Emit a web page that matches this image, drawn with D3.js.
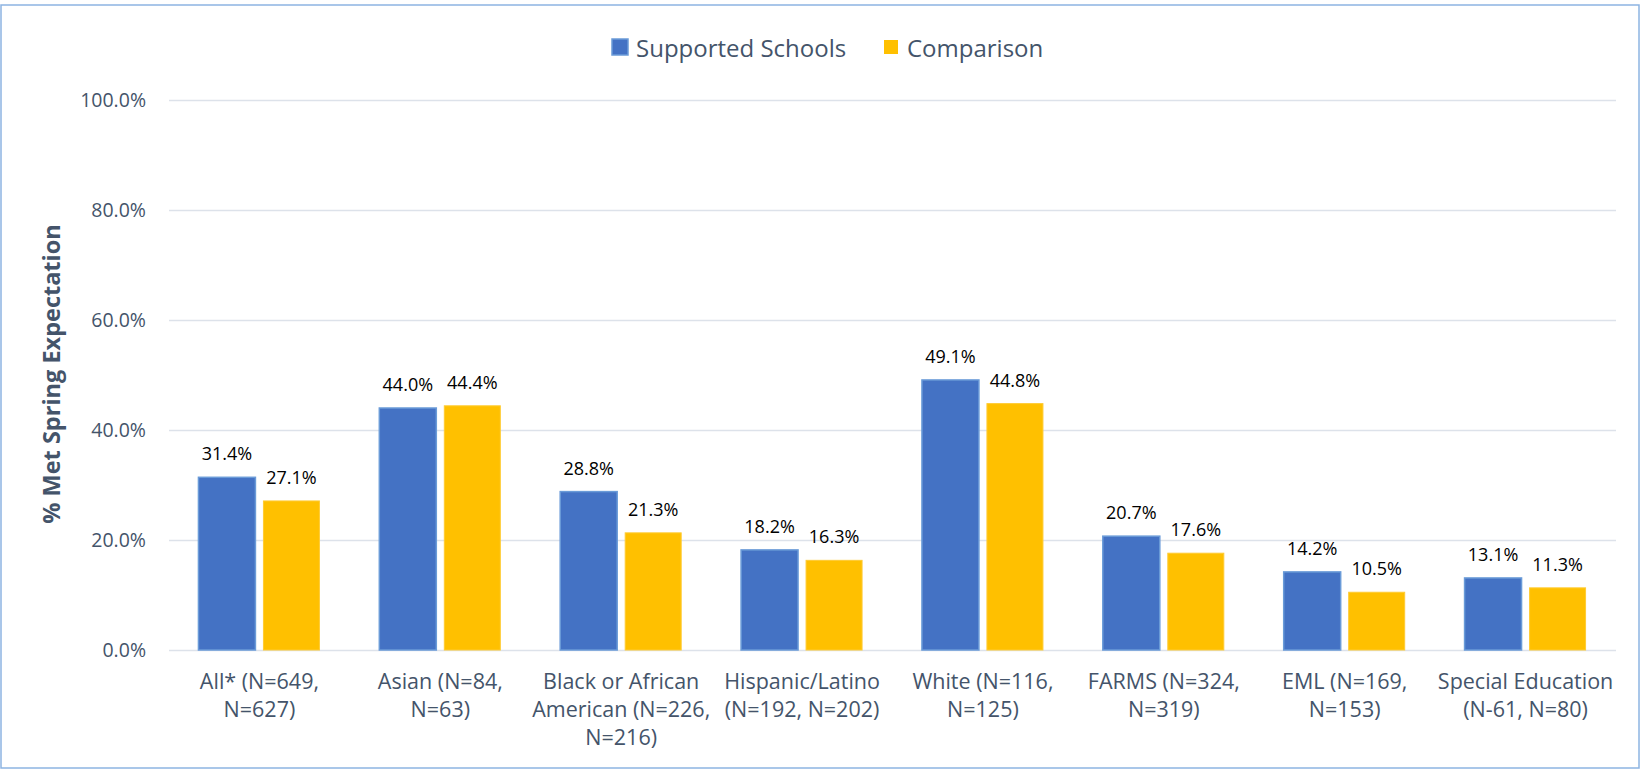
<!DOCTYPE html>
<html>
<head>
<meta charset="utf-8">
<script src="https://cdn.jsdelivr.net/npm/d3@7"></script>
<style>
  html, body { margin: 0; padding: 0; background: #fff; }
  svg { display: block; }
</style>
</head>
<body>
<svg id="chart" width="1641" height="770"></svg>
<script>
// ---- data ----
const categories = [
  "All* (N=649,\nN=627)",
  "Asian (N=84,\nN=63)",
  "Black or African\nAmerican (N=226,\nN=216)",
  "Hispanic/Latino\n(N=192, N=202)",
  "White (N=116,\nN=125)",
  "FARMS (N=324,\nN=319)",
  "EML (N=169,\nN=153)",
  "Special Education\n(N-61, N=80)"
];
const seriesNames = ["Supported Schools", "Comparison"];
const supported = [31.4, 44.0, 28.8, 18.2, 49.1, 20.7, 14.2, 13.1];
const comparison = [27.1, 44.4, 21.3, 16.3, 44.8, 17.6, 10.5, 11.3];
const yTicks = [0, 20, 40, 60, 80, 100];
const yTitle = "% Met Spring Expectation";

// ---- layout ----
const svg = d3.select("#chart");
const W = 1641, H = 770;
const plot = { left: 169, right: 1616, top: 100, bottom: 650 };
const textColor = "#44546A";
const colors = ["#4472C4", "#FFC000"];
const strokes = ["#6A9BD8", "#FFCB33"];
const fontFamily = "'Open Sans', 'Noto Sans', sans-serif";

// outer border
svg.append("rect")
  .attr("x", 1).attr("y", 5)
  .attr("width", W - 3).attr("height", H - 7)
  .attr("fill", "none")
  .attr("stroke", "#8DB4E2")
  .attr("stroke-width", 1.5);

const x0 = d3.scaleBand()
  .domain(categories)
  .range([plot.left, plot.right])
  .paddingInner(0)
  .paddingOuter(0);

const y = d3.scaleLinear().domain([0, 100]).range([plot.bottom, plot.top]);

// gridlines
const yAxis = d3.axisLeft(y)
  .tickValues(yTicks)
  .tickSize(-(plot.right - plot.left))
  .tickPadding(23)
  .tickFormat(d => d3.format(".1f")(d) + "%");

const gy = svg.append("g")
  .attr("transform", `translate(${plot.left},0)`)
  .call(yAxis);
gy.select(".domain").remove();
gy.selectAll(".tick line").attr("stroke", "#DDE2EA").attr("stroke-width", 1.5);
gy.selectAll(".tick text")
  .attr("fill", textColor)
  .style("font-family", fontFamily)
  .style("font-size", "19.5px");

// bars
const barW = [57, 56], gap = 8;
const series = [supported, comparison];
const barX = (i, si) => {
  const c = x0(categories[i]) + x0.bandwidth() / 2;
  return si === 0 ? c - gap / 2 - barW[0] : c + gap / 2;
};
const groups = svg.append("g");
series.forEach((vals, si) => {
  groups.selectAll(null)
    .data(vals)
    .enter()
    .append("rect")
    .attr("x", (d, i) => barX(i, si))
    .attr("y", d => y(d))
    .attr("width", barW[si])
    .attr("height", d => y(0) - y(d))
    .attr("fill", colors[si])
    .attr("stroke", strokes[si])
    .attr("stroke-width", si === 0 ? 1.5 : 1);

  groups.selectAll(null)
    .data(vals)
    .enter()
    .append("text")
    .attr("x", (d, i) => barX(i, si) + barW[si] / 2)
    .attr("y", d => y(d) - 17)
    .attr("text-anchor", "middle")
    .attr("fill", "#000")
    .style("font-family", fontFamily)
    .style("font-size", "18px")
    .text(d => d3.format(".1f")(d) + "%");
});

// x axis labels
const gx = svg.append("g")
  .attr("transform", `translate(0,${plot.bottom})`)
  .call(d3.axisBottom(x0).tickSize(0).tickFormat(""));
gx.select(".domain").remove();
gx.selectAll(".tick").each(function(d) {
  const lines = d.split("\n");
  const t = d3.select(this).append("text")
    .attr("fill", textColor)
    .attr("text-anchor", "middle")
    .style("font-family", fontFamily)
    .style("font-size", "21.5px");
  lines.forEach((ln, k) => {
    t.append("tspan").attr("x", 0).attr("y", 39 + k * 28).text(ln);
  });
});

// y title
svg.append("text")
  .attr("transform", `translate(51,374) rotate(-90)`)
  .attr("text-anchor", "middle")
  .attr("dominant-baseline", "central")
  .attr("fill", textColor)
  .style("font-family", fontFamily)
  .style("font-weight", "bold")
  .style("font-size", "23.5px")
  .text(yTitle);

// legend
const legendItems = [
  { name: seriesNames[0], sx: 612, sy: 39, s: 16, tx: 636 },
  { name: seriesNames[1], sx: 884, sy: 40, s: 14, tx: 907 }
];
legendItems.forEach((it, i) => {
  svg.append("rect")
    .attr("x", it.sx).attr("y", it.sy)
    .attr("width", it.s).attr("height", it.s)
    .attr("fill", colors[i])
    .attr("stroke", i === 0 ? strokes[0] : "none")
    .attr("stroke-width", 1.5);
  svg.append("text")
    .attr("x", it.tx).attr("y", 47)
    .attr("dominant-baseline", "central")
    .attr("fill", textColor)
    .style("font-family", fontFamily)
    .style("font-size", "24px")
    .text(it.name);
});
</script>
</body>
</html>
